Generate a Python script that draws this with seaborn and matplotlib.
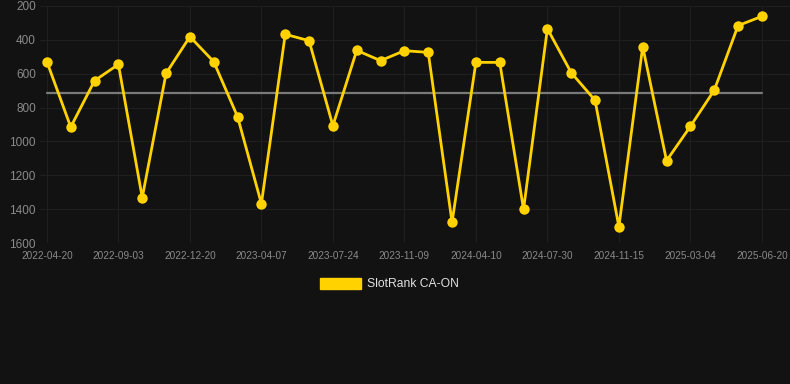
import numpy as np
import pandas as pd
import matplotlib
matplotlib.use('Agg')
import matplotlib.pyplot as plt
from matplotlib.patches import Patch
import seaborn as sns

sns.set_theme(style = 'dark')
plt.rcParams['font.family'] = ['Liberation Sans', 'DejaVu Sans']

# one label every third point is shown on the axis
tick_dates = ['2022-04-20', '2022-09-03', '2022-12-20', '2023-04-07', '2023-07-24', '2023-11-09',
              '2024-04-10', '2024-07-30', '2024-11-15', '2025-03-04', '2025-06-20']
ranks = [529, 915, 641, 545, 1332, 598, 381, 529, 854, 1368,
         367, 405, 907, 462, 523, 464, 474, 1478, 533, 533,
         1401, 334, 594, 757, 1504, 440, 1114, 911, 698, 316, 261]
series_name = 'SlotRank CA-ON'

bg = '#121212'
gold = '#FFD200'

idx = np.arange(len(ranks))
df = pd.DataFrame({'idx': idx, 'rank': ranks})
avg = np.mean(ranks)

fig = plt.figure(figsize = (7.9, 3.84), dpi = 100, facecolor = bg)
ax = fig.add_axes([40 / 790, 1 - 243 / 384, 750 / 790, 237 / 384])
ax.set_facecolor(bg)

ax.plot([idx[0], idx[-1]], [avg, avg], color = '#7a7a7a', linewidth = 1.6, zorder = 2)
sns.lineplot(data = df, x = 'idx', y = 'rank', ax = ax, color = gold, linewidth = 2.0,
             marker = 'o', markersize = 7.5, markeredgewidth = 0, zorder = 3)

ax.set_ylim(1600, 200)
ax.set_yticks([200, 400, 600, 800, 1000, 1200, 1400, 1600])
ax.set_xlim(-0.29, 31.18)
ax.set_xticks(idx[::3])
ax.set_xticklabels(tick_dates)

ax.grid(True, color = '#1f1f1f', linewidth = 0.8)
ax.set_axisbelow(True)
for s in ax.spines.values():
    s.set_visible(False)
ax.tick_params(axis = 'y', colors = '#8a8a8a', labelsize = 8.5, length = 0, pad = 3)
ax.tick_params(axis = 'x', colors = '#8a8a8a', labelsize = 7.2, length = 0, pad = 6)
ax.set_xlabel('')
ax.set_ylabel('')

handle = Patch(facecolor = gold, edgecolor = gold)
fig.legend(handles = [handle], labels = [series_name], loc = 'center', bbox_to_anchor = (0.493, 1 - 284 / 384),
           frameon = False, fontsize = 8.7, labelcolor = '#e0e0e0', handlelength = 3.4, handleheight = 1.0,
           handletextpad = 0.55)

fig.savefig('out.png', dpi = 100, facecolor = bg)
